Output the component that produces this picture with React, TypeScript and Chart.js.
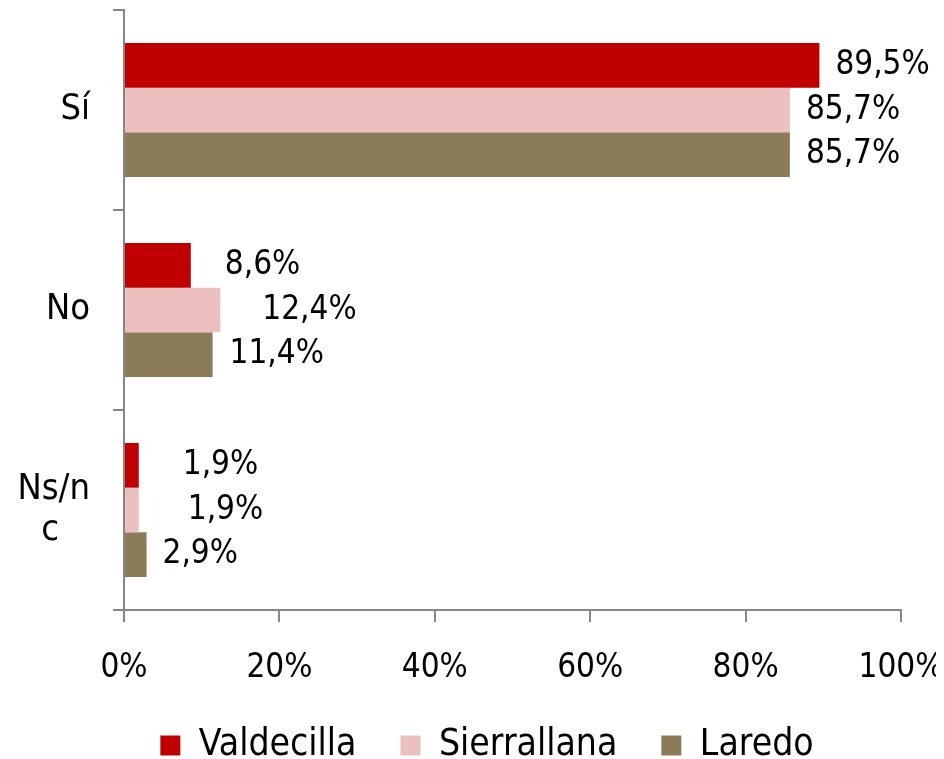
import { useEffect, useRef } from 'react';
import { Chart, registerables } from 'chart.js';

Chart.register(...registerables);

const categories: (string | string[])[] = ['Sí', 'No', ['Ns/n', 'c   ']];
const seriesNames = ['Valdecilla', 'Sierrallana', 'Laredo'];
const valdecilla = [89.5, 8.6, 1.9];
const sierrallana = [85.7, 12.4, 1.9];
const laredo = [85.7, 11.4, 2.9];
const xTicks = [0, 20, 40, 60, 80, 100];

const colors = ['#C00000', '#EDC0C0', '#8B7B58'];
// horizontal nudge of each value label from its bar end (px)
const labelNudge = [
  [16, 34, 44],
  [16, 42, 49],
  [16, 17, 16],
];

const FONT = '"DejaVu Sans Condensed", "DejaVu Sans", sans-serif';
const AXIS = '#868686';

const fmt = (v: number) => v.toFixed(1).replace('.', ',') + '%';

const valueLabels = {
  id: 'valueLabels',
  afterDatasetsDraw(chart: any) {
    const ctx = chart.ctx;
    ctx.save();
    ctx.font = `33px ${FONT}`;
    ctx.fillStyle = '#000';
    ctx.textAlign = 'left';
    ctx.textBaseline = 'middle';
    chart.data.datasets.forEach((ds: any, di: number) => {
      const meta = chart.getDatasetMeta(di);
      meta.data.forEach((el: any, i: number) => {
        ctx.fillText(fmt(ds.data[i]), el.x + labelNudge[di][i], el.y);
      });
    });
    ctx.restore();
  },
};

export default function App() {
  const ref = useRef<HTMLCanvasElement>(null);
  useEffect(() => {
    if (!ref.current) return;
    const chart = new Chart(ref.current, {
      type: 'bar',
      data: {
        labels: categories as any,
        datasets: [valdecilla, sierrallana, laredo].map((d, i) => ({
          label: seriesNames[i],
          data: d,
          backgroundColor: colors[i],
          borderWidth: 0,
          categoryPercentage: 0.67,
          barPercentage: 1.0,
        })),
      },
      options: {
        indexAxis: 'y',
        responsive: false,
        animation: false,
        layout: { padding: { top: 2, right: 0, left: 0, bottom: 0 } },
        scales: {
          x: {
            min: 0,
            max: 100,
            afterBuildTicks: (s: any) => {
              s.ticks = xTicks.map((v) => ({ value: v }));
            },
            afterFit: (s: any) => {
              s.paddingLeft = 0;
              s.paddingRight = 65;
              s.height = 73;
            },
            ticks: {
              callback: (v: any) => v + '%',
              color: '#000',
              font: { family: FONT, size: 33 },
              padding: 27,
              maxRotation: 0,
            },
            grid: {
              drawOnChartArea: false,
              drawTicks: true,
              tickLength: 12,
              color: AXIS,
              lineWidth: 2,
            },
            border: { color: AXIS, width: 2 },
          },
          y: {
            offset: true,
            afterFit: (s: any) => {
              s.width = 116;
              s.paddingTop = 0;
              s.paddingBottom = 0;
            },
            ticks: {
              color: '#000',
              font: { family: FONT, size: 36, lineHeight: 1.12 },
              padding: 23,
            },
            grid: {
              offset: true,
              drawOnChartArea: false,
              drawTicks: true,
              tickLength: 11,
              color: AXIS,
              lineWidth: 2,
            },
            border: { color: AXIS, width: 2 },
          },
        },
        plugins: {
          legend: {
            position: 'bottom',
            labels: {
              boxWidth: 20,
              boxHeight: 20,
              padding: 44,
              color: '#000',
              font: { family: FONT, size: 37 },
            },
          },
          tooltip: { enabled: false },
        },
      },
      plugins: [valueLabels],
    });
    return () => chart.destroy();
  }, []);
  return (
    <div style={{ width: 928, height: 751, overflow: 'hidden' }}>
      <canvas ref={ref} width={958} height={766} />
    </div>
  );
}
